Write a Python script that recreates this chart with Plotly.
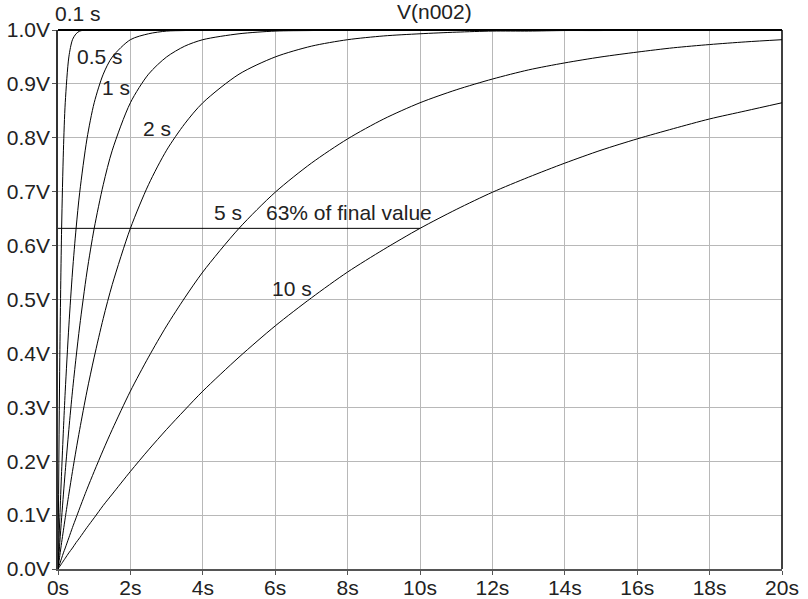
import plotly.graph_objects as go

# Sample times (s) shared by every charging curve
t = [0, 0.05, 0.1, 0.15, 0.2, 0.3, 0.4, 0.5, 0.6, 0.8, 1.0, 1.25, 1.5, 2, 2.5, 3, 3.5, 4,
     5, 6, 7, 8, 9, 10, 11, 12, 13, 14, 15, 16, 17, 18, 19, 20]

# Capacitor voltage V(n002) for each RC time constant
v_tau_0_1 = [0, 0.393, 0.632, 0.777, 0.865, 0.950, 0.982, 0.993, 0.998, 1.0, 1.0, 1.0, 1.0, 1.0,
             1.0, 1.0, 1.0, 1.0, 1.0, 1.0, 1.0, 1.0, 1.0, 1.0, 1.0, 1.0, 1.0, 1.0, 1.0, 1.0,
             1.0, 1.0, 1.0, 1.0]
v_tau_0_5 = [0, 0.095, 0.181, 0.259, 0.330, 0.451, 0.551, 0.632, 0.699, 0.798, 0.865, 0.918,
             0.950, 0.982, 0.993, 0.998, 0.999, 1.0, 1.0, 1.0, 1.0, 1.0, 1.0, 1.0, 1.0, 1.0,
             1.0, 1.0, 1.0, 1.0, 1.0, 1.0, 1.0, 1.0]
v_tau_1 = [0, 0.049, 0.095, 0.139, 0.181, 0.259, 0.330, 0.393, 0.451, 0.551, 0.632, 0.713,
           0.777, 0.865, 0.918, 0.950, 0.970, 0.982, 0.993, 0.998, 0.999, 1.0, 1.0, 1.0, 1.0,
           1.0, 1.0, 1.0, 1.0, 1.0, 1.0, 1.0, 1.0, 1.0]
v_tau_2 = [0, 0.025, 0.049, 0.072, 0.095, 0.139, 0.181, 0.221, 0.259, 0.330, 0.393, 0.465,
           0.528, 0.632, 0.713, 0.777, 0.826, 0.865, 0.918, 0.950, 0.970, 0.982, 0.989, 0.993,
           0.996, 0.998, 0.998, 0.999, 0.999, 1.0, 1.0, 1.0, 1.0, 1.0]
v_tau_5 = [0, 0.010, 0.020, 0.030, 0.039, 0.058, 0.077, 0.095, 0.113, 0.148, 0.181, 0.221,
           0.259, 0.330, 0.393, 0.451, 0.503, 0.551, 0.632, 0.699, 0.753, 0.798, 0.835, 0.865,
           0.889, 0.909, 0.926, 0.939, 0.950, 0.959, 0.967, 0.973, 0.978, 0.982]
v_tau_10 = [0, 0.005, 0.010, 0.015, 0.020, 0.030, 0.039, 0.049, 0.058, 0.077, 0.095, 0.118,
            0.139, 0.181, 0.221, 0.259, 0.295, 0.330, 0.393, 0.451, 0.503, 0.551, 0.593, 0.632,
            0.667, 0.699, 0.727, 0.753, 0.777, 0.798, 0.817, 0.835, 0.850, 0.865]

curves = [v_tau_0_1, v_tau_0_5, v_tau_1, v_tau_2, v_tau_5, v_tau_10]

# 63 % reference line
ref_t = [0, 10]
ref_v = [0.632, 0.632]

x_ticks = [0, 2, 4, 6, 8, 10, 12, 14, 16, 18, 20]
x_tick_text = ["0s", "2s", "4s", "6s", "8s", "10s", "12s", "14s", "16s", "18s", "20s"]
y_ticks = [0.0, 0.1, 0.2, 0.3, 0.4, 0.5, 0.6, 0.7, 0.8, 0.9, 1.0]
y_tick_text = ["0.0V", "0.1V", "0.2V", "0.3V", "0.4V", "0.5V", "0.6V", "0.7V", "0.8V", "0.9V", "1.0V"]

# Curve labels: (text, time, voltage)
labels = [
    ("0.1 s", 0.55, 1.030),
    ("0.5 s", 1.16, 0.950),
    ("1 s", 1.60, 0.893),
    ("2 s", 2.73, 0.818),
    ("5 s", 4.70, 0.661),
    ("63% of final value", 8.04, 0.661),
    ("10 s", 6.46, 0.521),
    ("V(n002)", 10.41, 1.034),
]

FONT = "Liberation Sans, Arial, sans-serif"
TXT = "#222222"
FS = 21

fig = go.Figure()
for v in curves:
    fig.add_trace(go.Scatter(x=t, y=v, mode="lines",
                             line=dict(color="black", width=1, shape="spline", smoothing=0.8),
                             hoverinfo="skip", showlegend=False, cliponaxis=False))
fig.add_trace(go.Scatter(x=ref_t, y=ref_v, mode="lines", line=dict(color="black", width=1),
                         hoverinfo="skip", showlegend=False))

# The x range is 0..20 and the y range is 0..1, so paper y equals the voltage
for text, x, y in labels:
    fig.add_annotation(x=x / 20.0, y=y, text=text, showarrow=False, xref="paper", yref="paper",
                       xanchor="center", yanchor="middle",
                       font=dict(family=FONT, size=FS, color=TXT))

# Black frame on the top and right edges
fig.add_shape(type="line", xref="paper", yref="paper", x0=0, x1=1, y0=1, y1=1,
              line=dict(color="black", width=2))
fig.add_shape(type="line", xref="paper", yref="paper", x0=1, x1=1, y0=0, y1=1,
              line=dict(color="black", width=1.5))

fig.update_xaxes(range=[0, 20], tickvals=x_ticks, ticktext=x_tick_text,
                 showgrid=True, gridcolor="#b8b8b8", gridwidth=1,
                 showline=True, linecolor="#555555", linewidth=1.5,
                 ticks="outside", ticklen=4, tickcolor="#555555", automargin=False,
                 ticklabelstandoff=-5,
                 tickfont=dict(family=FONT, size=FS, color=TXT), zeroline=False)
fig.update_yaxes(range=[0, 1.0], tickvals=y_ticks, ticktext=y_tick_text,
                 showgrid=True, gridcolor="#b8b8b8", gridwidth=1,
                 showline=True, linecolor="#333333", linewidth=1.5,
                 ticks="outside", ticklen=4, tickcolor="#555555", automargin=False,
                 ticklabelstandoff=-2,
                 tickfont=dict(family=FONT, size=FS, color=TXT), zeroline=False)

fig.update_layout(width=808, height=599, margin=dict(l=58, r=26, t=30, b=30),
                  plot_bgcolor="white", paper_bgcolor="white")

fig.write_html("out.html")
